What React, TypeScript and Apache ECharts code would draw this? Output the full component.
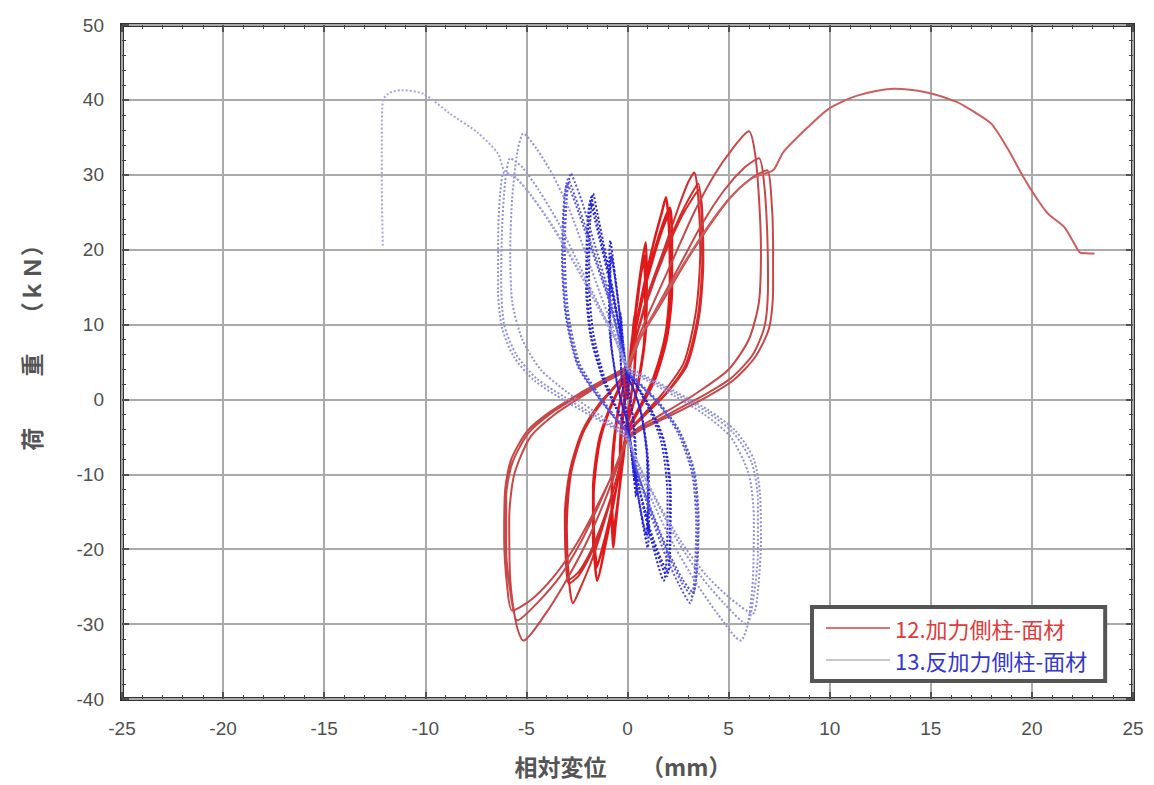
import React, { useEffect, useRef } from "react";
import * as echarts from "echarts";

// ---- axis ranges / ticks ----
const X_MIN = -25;
const X_MAX = 25;
const X_STEP = 5;
const Y_MIN = -40;
const Y_MAX = 50;
const Y_STEP = 10;

// ---- texts ----
const RED_NAME = "12.加力側柱-面材";
const BLUE_NAME = "13.反加力側柱-面材";
const X_TITLE = "相対変位　　（mm）";
const Y_TITLE = "荷　　 重　 （ｋＮ）";

// ---- red series (12) : [relative displacement mm, load kN] ----
const RED_G1 = [[0,0],[0.15,5],[0.3,9.5],[0.4,12],[0.42,9],[0.35,4],[0.15,0],[0,-2],[-0.1,-5],[-0.22,-7.5],[-0.3,-9.5],[-0.33,-7],[-0.25,-3],[-0.1,0.5],[0,2],[0.15,5.5],[0.3,10],[0.38,11.5],[0.4,8.5],[0.33,3.5],[0.12,-0.5],[0,-2.5],[-0.12,-5.5],[-0.25,-8.5],[-0.35,-10.5],[-0.37,-7],[-0.28,-2.5],[-0.1,1],[0,2.5]];
const RED_G2 = [[0.2,7],[0.45,13],[0.7,18],[0.9,21],[0.95,16],[0.9,9],[0.6,3],[0.3,-0.5],[0,-3],[-0.2,-7],[-0.4,-12],[-0.6,-17],[-0.7,-19.8],[-0.78,-15],[-0.75,-8],[-0.5,-2],[-0.2,1.5],[0,3],
[0.2,7.5],[0.45,12.5],[0.68,17],[0.85,19.2],[0.9,14.5],[0.85,8],[0.55,2.5],[0.25,-1],[0,-3.2],[-0.2,-7.5],[-0.42,-12.5],[-0.62,-16.5],[-0.72,-18.2],[-0.78,-14],[-0.72,-7.5],[-0.48,-1.8],[-0.2,1.6],[0,3.1],
[0.2,7.4],[0.45,12.3],[0.66,16.7],[0.82,18.6],[0.88,14],[0.82,7.5],[0.52,2.2],[0.24,-1.1],[0,-3.3],[-0.2,-7.6],[-0.42,-12.4],[-0.6,-16.2],[-0.7,-17.6],[-0.76,-13.5],[-0.7,-7.2],[-0.46,-1.6],[-0.18,1.7],[0,3.2]];
const RED_G3 = [[0.3,8],[0.8,15],[1.3,21],[1.7,25],[1.9,27],[2.05,23],[2.1,16],[1.9,9],[1.3,3],[0.6,-1],[0,-4],[-0.3,-8],[-0.7,-14],[-1.1,-19.5],[-1.5,-24.2],[-1.65,-20],[-1.68,-13],[-1.4,-6],[-0.9,-1.5],[-0.3,2],[0,3.5],
[0.3,8],[0.8,14.5],[1.35,20],[1.8,23.8],[2.1,25.6],[2.2,21.5],[2.2,15],[1.95,8.5],[1.35,2.8],[0.6,-1.2],[0,-4.2],[-0.3,-8.2],[-0.7,-13.8],[-1.15,-19],[-1.55,-22.5],[-1.7,-18.5],[-1.7,-12],[-1.42,-5.6],[-0.9,-1.3],[-0.3,2.1],[0,3.6],
[0.3,8],[0.8,14.2],[1.35,19.6],[1.8,23.3],[2.1,25],[2.2,21],[2.2,14.6],[1.95,8.2],[1.35,2.6],[0.6,-1.3],[0,-4.3],[-0.3,-8.3],[-0.7,-13.7],[-1.12,-18.6],[-1.5,-22],[-1.66,-18],[-1.68,-11.6],[-1.4,-5.4],[-0.88,-1.2],[-0.3,2.2],[0,3.7]];
const RED_G4 = [[0.4,8],[1,14],[1.8,20],[2.5,25.5],[3.0,29],[3.3,30.3],[3.5,27],[3.6,20],[3.4,12],[2.8,5],[1.8,1],[0.8,-2],[0,-4.5],[-0.4,-9],[-1,-15],[-1.7,-21],[-2.3,-25],[-2.7,-27.2],[-2.9,-24],[-3.0,-17],[-2.8,-10],[-2.2,-4.5],[-1.3,-0.5],[-0.5,2],[0,3.8],
[0.4,8],[1,13.6],[1.8,19.5],[2.6,24.5],[3.2,27.6],[3.5,28.8],[3.65,25.5],[3.7,19],[3.5,11.5],[2.9,4.8],[1.9,0.8],[0.8,-2.2],[0,-4.6],[-0.4,-9.2],[-1,-14.8],[-1.7,-20],[-2.4,-23.5],[-2.9,-24.6],[-3.05,-21.5],[-3.1,-15.5],[-2.85,-9.5],[-2.25,-4.3],[-1.35,-0.4],[-0.5,2.1],[0,3.9],
[0.4,8],[1,13.4],[1.8,19.2],[2.6,24],[3.25,27],[3.55,28],[3.7,25],[3.75,18.6],[3.55,11.2],[2.95,4.6],[1.9,0.7],[0.8,-2.3],[0,-4.7],[-0.4,-9.3],[-1,-14.6],[-1.7,-19.6],[-2.4,-23],[-2.85,-24],[-3.0,-21],[-3.05,-15.2],[-2.8,-9.3],[-2.2,-4.2],[-1.3,-0.3],[-0.5,2.2],[0,4]];
const RED_G5 = [[0.5,8],[1.3,13],[2.3,19],[3.3,25],[4.3,30],[5.2,33.5],[6.0,35.8],[6.3,33],[6.5,27],[6.6,20],[6.5,13],[6.0,8],[5.0,4],[3.5,1],[2,-1.5],[0.7,-3.5],[0,-5],[-0.5,-9],[-1.2,-14],[-2.1,-19.5],[-3.1,-24.5],[-4.1,-28.8],[-5.15,-32.2],[-5.5,-30],[-5.8,-24],[-5.85,-16],[-5.6,-10],[-4.8,-5],[-3.6,-2],[-2.2,0.5],[-1,2.5],[0,4],
[0.6,8],[1.5,12.5],[2.6,18],[3.7,23.5],[4.8,28],[5.8,31],[6.5,32.2],[6.75,29],[6.9,23],[6.95,16],[6.8,10],[6.2,6],[5.1,2.8],[3.6,0.3],[2,-2],[0.7,-3.8],[0,-5.3],[-0.6,-9],[-1.4,-14],[-2.3,-19],[-3.3,-23.5],[-4.4,-27],[-5.45,-29.5],[-5.75,-26.5],[-6.0,-20],[-6.0,-13],[-5.7,-8.5],[-4.9,-4.5],[-3.7,-1.7],[-2.2,0.8],[-1,2.7],[0,4.2],
[0.6,8],[1.6,12.5],[2.8,18],[4.0,23],[5.1,27],[6.1,29.5],[6.9,30.6],[7.1,27.5],[7.2,21],[7.2,14.5],[7.0,9.5],[6.3,5.6],[5.2,2.5],[3.7,0],[2.1,-2.2],[0.7,-4],[0,-5.5],[-0.6,-9.2],[-1.5,-14.2],[-2.5,-19.2],[-3.6,-23.5],[-4.7,-26.6],[-5.7,-28.2],[-5.95,-25],[-6.1,-18.5],[-6.05,-12],[-5.75,-8],[-4.95,-4.2],[-3.75,-1.5],[-2.25,1],[-1,2.9],[0,4.4]];
const RED_FINAL = [[0.6,8.2],[1.6,12.8],[2.8,18.2],[4.0,23.2],[5.1,27],[6.2,29.6],[7.2,30.6],[7.7,33],[8.9,36.3],[10,38.9],[11.4,40.6],[13.2,41.5],[14.8,41],[16.3,39.7],[17.2,38.3],[18,36.8],[18.8,33.5],[19.6,29.6],[20.2,27],[20.8,24.8],[21.6,23],[22.1,20.8],[22.4,19.6],[23.1,19.5]];

// ---- blue series (13) ----
const BLUE_G1 = [[0,0],[-0.12,4.5],[-0.25,8.5],[-0.32,11],[-0.35,8],[-0.3,3.5],[-0.12,-0.5],[0,-2.5],[0.12,-5.5],[0.25,-8.5],[0.35,-11],[0.38,-8],[0.3,-3.5],[0.12,0.5],[0,2.2],[-0.13,5],[-0.26,9],[-0.34,11.5],[-0.37,8.2],[-0.3,3.2],[-0.1,-0.8],[0,-2.7],[0.14,-6],[0.3,-10],[0.42,-13],[0.44,-9.5],[0.35,-4],[0.12,0.3],[0,2.4]];
const BLUE_G2 = [[-0.2,7],[-0.45,13],[-0.68,18],[-0.85,21.2],[-0.92,16],[-0.88,9],[-0.58,3],[-0.28,-0.5],[0,-3],[0.25,-7.5],[0.5,-12.5],[0.78,-17],[1.0,-19.8],[1.07,-15],[1.02,-8],[0.7,-2],[0.28,1.5],[0,3],
[-0.2,7.3],[-0.44,12.6],[-0.66,17],[-0.82,19.5],[-0.88,15],[-0.84,8.2],[-0.55,2.6],[-0.26,-0.8],[0,-3.2],[0.25,-7.6],[0.5,-12.4],[0.76,-16.3],[0.95,-18.5],[1.02,-14.2],[0.98,-7.6],[0.67,-1.8],[0.27,1.6],[0,3.1],
[-0.2,7.2],[-0.43,12.3],[-0.64,16.6],[-0.8,19],[-0.86,14.6],[-0.82,7.9],[-0.53,2.4],[-0.25,-0.9],[0,-3.3],[0.24,-7.6],[0.49,-12.2],[0.74,-16],[0.92,-18],[0.99,-13.8],[0.95,-7.3],[0.65,-1.6],[0.26,1.7],[0,3.2]];
const BLUE_G3 = [[-0.3,8],[-0.75,15],[-1.2,21],[-1.5,25],[-1.7,27.5],[-1.85,23.5],[-1.9,16],[-1.7,9],[-1.15,3],[-0.55,-1],[0,-4],[0.3,-8],[0.7,-13.5],[1.2,-19],[1.8,-24.2],[1.95,-20],[1.98,-13],[1.7,-6],[1.1,-1.5],[0.4,2],[0,3.5],
[-0.3,8],[-0.78,14.8],[-1.25,20.6],[-1.58,24.6],[-1.8,27],[-1.95,23],[-2.0,15.6],[-1.8,8.8],[-1.2,2.8],[-0.56,-1.1],[0,-4.1],[0.3,-8.1],[0.72,-13.4],[1.25,-18.8],[1.95,-23.6],[2.08,-19.6],[2.1,-12.7],[1.8,-5.8],[1.15,-1.4],[0.4,2.1],[0,3.6],
[-0.3,8],[-0.8,14.6],[-1.28,20.3],[-1.62,24.1],[-1.85,26.4],[-2.0,22.5],[-2.05,15.3],[-1.84,8.6],[-1.22,2.7],[-0.57,-1.2],[0,-4.2],[0.3,-8.2],[0.72,-13.3],[1.27,-18.6],[2.0,-23],[2.12,-19.2],[2.14,-12.5],[1.83,-5.7],[1.17,-1.3],[0.4,2.2],[0,3.7]];
const BLUE_G4 = [[-0.4,8],[-0.9,14],[-1.6,20.5],[-2.2,26],[-2.6,29],[-2.8,30.2],[-3.0,27],[-3.1,20],[-2.95,12],[-2.4,5],[-1.5,1],[-0.7,-2],[0,-4.5],[0.4,-9],[1.1,-15],[1.9,-21],[2.6,-25],[3.1,-27.2],[3.3,-24],[3.4,-17],[3.2,-10],[2.5,-4.5],[1.5,-0.5],[0.6,2],[0,3.8],
[-0.4,8],[-0.95,13.8],[-1.7,20],[-2.35,25.2],[-2.75,28.3],[-2.95,29.4],[-3.12,26.2],[-3.2,19.4],[-3.03,11.6],[-2.46,4.8],[-1.55,0.8],[-0.7,-2.2],[0,-4.6],[0.42,-9.1],[1.15,-14.8],[1.98,-20.5],[2.7,-24.5],[3.2,-26.3],[3.4,-23.3],[3.48,-16.6],[3.27,-9.7],[2.55,-4.3],[1.52,-0.4],[0.6,2.1],[0,3.9],
[-0.4,8],[-0.97,13.6],[-1.74,19.7],[-2.4,24.8],[-2.8,27.8],[-3.0,28.8],[-3.16,25.7],[-3.24,19],[-3.06,11.3],[-2.48,4.6],[-1.56,0.7],[-0.7,-2.3],[0,-4.7],[0.42,-9.2],[1.16,-14.6],[2.0,-20.2],[2.74,-24.1],[3.25,-25.8],[3.44,-22.9],[3.52,-16.3],[3.3,-9.5],[2.57,-4.2],[1.53,-0.3],[0.6,2.2],[0,4]];
const BLUE_G5 = [[-0.5,8],[-1.2,13],[-2.0,19],[-2.9,25.5],[-3.7,30],[-4.5,33.5],[-5.15,35.5],[-5.45,33],[-5.7,27],[-5.8,20],[-5.7,13],[-5.2,8],[-4.3,4],[-3.0,1],[-1.7,-1.5],[-0.6,-3.5],[0,-5],[0.5,-9],[1.3,-14],[2.3,-19.5],[3.4,-24.5],[4.5,-28.8],[5.6,-32.2],[5.95,-30],[6.2,-24],[6.25,-16],[6.0,-10],[5.1,-5],[3.8,-2],[2.3,0.5],[1.0,2.5],[0,4],
[-0.6,8],[-1.4,12.5],[-2.4,18],[-3.4,23.5],[-4.4,28],[-5.2,31],[-5.8,32.2],[-6.05,29],[-6.2,23],[-6.25,16],[-6.1,10],[-5.5,6],[-4.5,2.8],[-3.1,0.3],[-1.7,-2],[-0.6,-3.8],[0,-5.3],[0.6,-9],[1.5,-14],[2.5,-19],[3.6,-23.5],[4.8,-27.3],[5.9,-30],[6.2,-27],[6.45,-20.5],[6.45,-13.5],[6.15,-8.5],[5.25,-4.5],[3.95,-1.7],[2.35,0.8],[1.05,2.7],[0,4.2],
[-0.6,8],[-1.5,12.5],[-2.6,18],[-3.7,23],[-4.7,27],[-5.5,29.5],[-6.1,30.3],[-6.3,27.5],[-6.4,21],[-6.4,14.5],[-6.2,9.5],[-5.6,5.6],[-4.6,2.5],[-3.2,0],[-1.8,-2.2],[-0.6,-4],[0,-5.5],[0.65,-9.2],[1.6,-14.2],[2.7,-19.2],[3.9,-23.5],[5.1,-26.6],[6.2,-28.6],[6.45,-25.5],[6.6,-19],[6.55,-12.5],[6.25,-8],[5.35,-4.2],[4.05,-1.5],[2.4,1],[1.05,2.9],[0,4.4]];
const BLUE_FINAL = [[-0.6,8.2],[-1.5,12.8],[-2.6,18.2],[-3.7,23.2],[-4.7,27],[-5.5,29.6],[-6.1,30.6],[-6.4,32.8],[-7.4,35.6],[-8.8,38.2],[-10.1,40.8],[-11.2,41.3],[-11.8,40.9],[-12.1,39.9],[-12.15,35],[-12.15,28],[-12.1,20.3]];

function chain(prev: number[][] | null, cur: number[][]) {
  return prev ? [prev[prev.length - 1], ...cur] : cur;
}

export default function App() {
  const ref = useRef<HTMLDivElement>(null);
  useEffect(() => {
    if (!ref.current) return;
    const chart = echarts.init(ref.current, undefined, { renderer: "svg" });
    const redInner = [...RED_G1, ...RED_G2, ...RED_G3];
    const blueInner = [...BLUE_G1, ...BLUE_G2, ...BLUE_G3];
    const lineSeries = (name: string, data: number[][], color: string, width: number, dotted: boolean, z: number) => ({
      type: "line",
      name,
      data,
      symbol: "none",
      showSymbol: false,
      smooth: 0.25,
      z,
      lineStyle: { color, width, type: dotted ? [2, 2] : "solid" },
      itemStyle: { color },
    });
    const tickFont = { color: "#505050", fontSize: 19, fontFamily: "Liberation Sans, Arial, sans-serif" };
    const common = {
      axisLine: { show: false, onZero: false },
      axisTick: { show: true, inside: true, length: 7, lineStyle: { color: "#333", width: 1.5 } },
      minorTick: { show: true, splitNumber: 5, length: 4, lineStyle: { color: "#444", width: 1 } },
    };
    chart.setOption({
      animation: false,
      backgroundColor: "#fff",
      grid: { left: 122, right: 21, top: 25, bottom: 86, show: true, borderColor: "#333", borderWidth: 4, backgroundColor: "transparent" },
      xAxis: [
        {
          type: "value", min: X_MIN, max: X_MAX, interval: X_STEP, position: "bottom",
          ...common,
          axisLabel: { ...tickFont, margin: 20 },
          splitLine: { show: true, lineStyle: { color: "#aaa", width: 2 } },
        },
        {
          type: "value", min: X_MIN, max: X_MAX, interval: X_STEP, position: "top",
          ...common, axisLabel: { show: false }, splitLine: { show: false },
        },
      ],
      yAxis: [
        {
          type: "value", min: Y_MIN, max: Y_MAX, interval: Y_STEP, position: "left",
          ...common,
          axisLabel: { ...tickFont, margin: 18 },
          splitLine: { show: true, lineStyle: { color: "#aaa", width: 2 } },
        },
        {
          type: "value", min: Y_MIN, max: Y_MAX, interval: Y_STEP, position: "right",
          ...common, axisLabel: { show: false }, splitLine: { show: false },
        },
      ],
      legend: {
        orient: "vertical",
        left: 812,
        top: 607,
        padding: [10, 18, 10, 14],
        itemWidth: 64,
        itemHeight: 2,
        itemGap: 10,
        icon: "rect",
        backgroundColor: "#fff",
        borderColor: "#555",
        borderWidth: 4,
        selectedMode: false,
        textStyle: { fontSize: 22, lineHeight: 22, fontFamily: "Noto Sans CJK JP" },
        data: [
          { name: RED_NAME, icon: "rect", textStyle: { color: "#e03a3a" }, itemStyle: { color: "#e07070" } },
          { name: BLUE_NAME, icon: "rect", textStyle: { color: "#3535d0" }, itemStyle: { color: "#c8c8c8" } },
        ],
      },
      graphic: [
        {
          type: "text", x: 623, y: 766,
          style: { text: X_TITLE, fontSize: 23, fontWeight: "bold", fontFamily: "Noto Sans CJK JP", fill: "#555", align: "center", verticalAlign: "middle" },
        },
        {
          type: "text", x: 31, y: 342, rotation: Math.PI / 2,
          style: { text: Y_TITLE, fontSize: 23, fontWeight: "bold", fontFamily: "Noto Sans CJK JP", fill: "#555", align: "center", verticalAlign: "middle" },
        },
      ],
      series: [
        lineSeries(RED_NAME, redInner, "#e01a1a", 2.5, false, 2),
        lineSeries(RED_NAME, chain(redInner, RED_G4), "#d42a2a", 2, false, 2),
        lineSeries(RED_NAME, chain(RED_G4, RED_G5), "#c84848", 2, false, 2),
        lineSeries(RED_NAME, chain(RED_G5, RED_FINAL), "#cd5e5e", 2, false, 2),
        lineSeries(BLUE_NAME, blueInner, "#2424dc", 2, true, 3),
        lineSeries(BLUE_NAME, chain(blueInner, BLUE_G4), "#5454e0", 2, true, 3),
        lineSeries(BLUE_NAME, chain(BLUE_G4, BLUE_G5), "#9090dd", 2, true, 3),
        lineSeries(BLUE_NAME, chain(BLUE_G5, BLUE_FINAL), "#a4a4e2", 2, true, 3),
      ],
    });
    return () => chart.dispose();
  }, []);
  return <div ref={ref} style={{ position: "fixed", left: 0, top: 0, width: 1154, height: 785 }} />;
}
